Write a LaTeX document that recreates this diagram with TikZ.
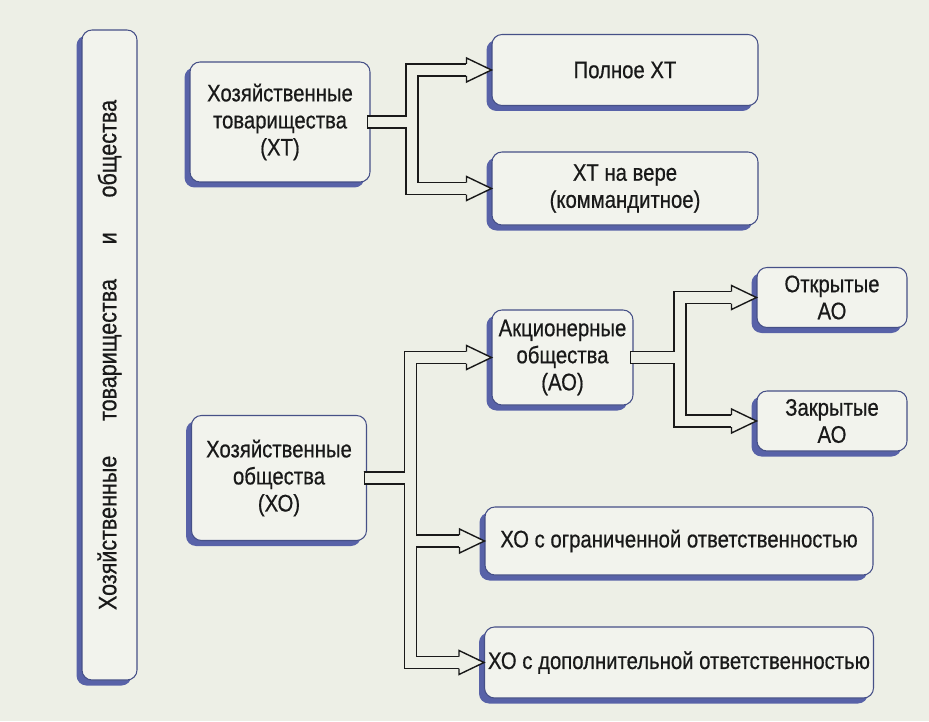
\documentclass[tikz,border=0pt]{standalone}
\usepackage{fontspec}
\setmainfont{Liberation Sans}[FakeStretch=0.85, FakeBold=0.6]
\usetikzlibrary{shadows}

\definecolor{paper}{RGB}{237,239,230}
\definecolor{boxfill}{RGB}{242,243,237}
\definecolor{rimblue}{RGB}{70,80,135}
\definecolor{shadeblue}{RGB}{88,98,168}
\definecolor{ink}{RGB}{25,25,25}

\tikzset{
  kind/.style={rectangle, rounded corners=0.2cm, draw=rimblue, line width=0.6pt,
    fill=boxfill, text=ink, align=center, inner sep=2pt,
    drop shadow={shadow xshift=-0.11cm, shadow yshift=-0.11cm, fill=shadeblue, opacity=1}},
  pipeout/.style={draw=ink, line width=7.6pt},
  pipein/.style={draw=paper, line width=6pt, shorten <=0.8pt},
  head/.style={draw=ink, fill=paper, line width=0.8pt},
}

\begin{document}
\begin{tikzpicture}[font=\fontsize{13.6}{15.4}\selectfont]
    \useasboundingbox[fill=paper] (0,0) rectangle (18.58,14.42);

    \node[kind, minimum width=1.1cm, minimum height=13cm, font=\fontsize{14.4}{16}\selectfont] (all) at (2.19,7.32)
        {\rotatebox{90}{\makebox[10.2cm][s]{Хозяйственные товарищества и общества}}};

    \node[kind, minimum width=3.6cm, minimum height=2.4cm] (xt) at (5.6,11.98) {Хозяйственные\\товарищества\\(ХТ)};
    \node[kind, minimum width=5.32cm, minimum height=1.42cm] (full) at (12.5,13.02) {Полное ХТ};
    \node[kind, minimum width=5.32cm, minimum height=1.46cm] (kommand) at (12.5,10.65) {ХТ на вере\\(коммандитное)};

    \node[kind, minimum width=2.82cm, minimum height=1.9cm] (ao) at (11.25,7.27) {Акционерные\\общества\\(АО)};
    \node[kind, minimum width=3cm, minimum height=1.2cm] (oao) at (16.64,8.47) {Открытые\\АО};
    \node[kind, minimum width=3cm, minimum height=1.2cm] (zao) at (16.64,6.0) {Закрытые\\АО};

    \node[kind, minimum width=3.5cm, minimum height=2.5cm] (xo) at (5.58,4.86) {Хозяйственные\\общества\\(ХО)};
    \node[kind, minimum width=7.76cm, minimum height=1.36cm] (ooo) at (13.58,3.6) {ХО с ограниченной ответственностью};
    \node[kind, minimum width=7.76cm, minimum height=1.42cm] (odo) at (13.58,1.17) {ХО с дополнительной ответственностью};

    % double-line pipes: dark pass first, then the light inside
    \foreach \pass in {pipeout,pipein} {
        \draw[\pass] ([xshift=-2pt]xt.east) -- ++(0.9,0) |- ([xshift=-0.5cm]full.west);
        \draw[\pass] ([xshift=-2pt]xt.east) -- ++(0.9,0) |- ([xshift=-0.5cm]kommand.west);
        \draw[\pass] ([xshift=-2pt]ao.east) -- ++(1,0) |- ([xshift=-0.5cm]oao.west);
        \draw[\pass] ([xshift=-2pt]ao.east) -- ++(1,0) |- ([xshift=-0.5cm]zao.west);
        \draw[\pass] ([xshift=-2pt]xo.east) -- ++(0.94,0) |- ([xshift=-0.5cm]ao.west);
        \draw[\pass] ([xshift=-2pt]xo.east) -- ++(0.94,0) |- ([xshift=-0.5cm]ooo.west);
        \draw[\pass] ([xshift=-2pt]xo.east) -- ++(0.94,0) |- ([xshift=-0.5cm]odo.west);
    }

    % hollow heads
    \foreach \t in {full,kommand,ao,oao,zao,ooo,odo}
        \draw[head] ([shift={(-0.5,0.12)}]\t.west) -- ++(0,0.12) -- (\t.west) -- ++(-0.5,-0.24) -- ++(0,0.12);
\end{tikzpicture}
\end{document}
